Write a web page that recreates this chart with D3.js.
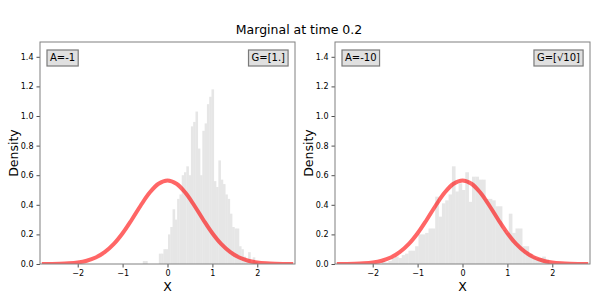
<!DOCTYPE html>
<html>
<head>
<meta charset="utf-8">
<style>
body { margin: 0; background: #fff; }
text { font-family: "DejaVu Sans", sans-serif; }
</style>
</head>
<body>
<svg width="598" height="299"></svg>
<script src="https://cdn.jsdelivr.net/npm/d3@7"></script>
<script>

// histogram of the left panel (A=-1): first bin edge, bin width, densities
var leftStart = -0.55, leftWidth = 0.051;
var leftDensity = [0.02, 0.02, 0, 0, 0, 0, 0, 0.07, 0.07, 0.1,
                   0.1, 0.2, 0.25, 0.37, 0.3, 0.44, 0.47, 0.6, 0.62, 0.66,
                   0.6, 0.93, 0.96, 1.03, 0.78, 0.6, 0.9, 0.95, 1.08, 1.13,
                   1.18, 0.56, 0.52, 0.7, 0.57, 0.54, 0.47, 0.44, 0.34, 0.25,
                   0.24, 0.24, 0.12, 0.1, 0.05, 0.03, 0.08, 0.01, 0.045, 0.015];

// histogram of the right panel (A=-10)
var rightStart = -1.8, rightWidth = 0.0745;
var rightDensity = [0.02, 0.01, 0.02, 0.04, 0.05, 0.04, 0.06, 0.07, 0.09, 0.09,
                    0.12, 0.2, 0.2, 0.21, 0.24, 0.24, 0.455, 0.32, 0.41, 0.43,
                    0.47, 0.66, 0.49, 0.545, 0.5, 0.62, 0.42, 0.59, 0.59, 0.57,
                    0.57, 0.44, 0.44, 0.43, 0.39, 0.39, 0.23, 0.21, 0.34, 0.21,
                    0.24, 0.24, 0.12, 0.12, 0.07, 0.05, 0.04, 0.04, 0.05, 0.03];

// target density curve (same in both panels)
var curveX = [-2.8, -2.6, -2.4, -2.2, -2.0, -1.8, -1.6, -1.4, -1.2, -1.0, -0.8, -0.6, -0.4, -0.2,
              0, 0.2, 0.4, 0.6, 0.8, 1.0, 1.2, 1.4, 1.6, 1.8, 2.0, 2.2, 2.4, 2.6, 2.8];
var curveY = [0.0002, 0.0007, 0.0018, 0.0045, 0.0103, 0.0221, 0.0436, 0.0795, 0.1337, 0.2076, 0.2975, 0.3936, 0.4808, 0.5421,
              0.5642, 0.5421, 0.4808, 0.3936, 0.2975, 0.2076, 0.1337, 0.0795, 0.0436, 0.0221, 0.0103, 0.0045, 0.0018, 0.0007, 0.0002];

var xTicks = [-2, -1, 0, 1, 2];
var yTicks = [0.0, 0.2, 0.4, 0.6, 0.8, 1.0, 1.2, 1.4];

var panels = [
  {left: 40, start: leftStart, width: leftWidth, density: leftDensity, tagA: "A=-1", tagG: "G=[1.]"},
  {left: 335, start: rightStart, width: rightWidth, density: rightDensity, tagA: "A=-10", tagG: "G=[\u221A10]"}
];

var svg = d3.select("svg"),
    marginTop = 42, w = 255, h = 222;

svg.append("text")
    .attr("x", 299)
    .attr("y", 34)
    .attr("text-anchor", "middle")
    .style("font-size", "12.5px")
    .text("Marginal at time 0.2");

var fmt = function(d) { return d3.format(".1f")(d); };
var fmtX = function(d) { return d < 0 ? "\u2212" + Math.abs(d) : "" + d; };

panels.forEach(function(p) {
  var x = d3.scaleLinear().domain([-2.84, 2.84]).range([0, w]);
  var y = d3.scaleLinear().domain([0, 1.5]).range([h, 0]);

  var g = svg.append("g")
      .attr("transform", "translate(" + p.left + "," + marginTop + ")");

  var clipId = "clip" + p.left;
  g.append("clipPath").attr("id", clipId)
    .append("rect").attr("width", w).attr("height", h);

  var bins = p.density.map(function(v, i) {
    return {x0: p.start + i * p.width, x1: p.start + (i + 1) * p.width, v: v};
  });

  g.append("g")
      .attr("clip-path", "url(#" + clipId + ")")
    .selectAll("rect")
    .data(bins)
    .enter().append("rect")
      .attr("x", function(d) { return x(d.x0); })
      .attr("width", function(d) { return x(d.x1) - x(d.x0) + 0.3; })
      .attr("y", function(d) { return y(d.v); })
      .attr("height", function(d) { return h - y(d.v); })
      .attr("fill", "#e6e6e6");

  var line = d3.line()
      .x(function(d, i) { return x(curveX[i]); })
      .y(function(d) { return y(d); })
      .curve(d3.curveCatmullRom);

  g.append("path")
      .datum(curveY)
      .attr("clip-path", "url(#" + clipId + ")")
      .attr("fill", "none")
      .attr("stroke", "red")
      .attr("stroke-opacity", 0.6)
      .attr("stroke-width", 4)
      .attr("d", line);

  var xAxis = g.append("g")
      .attr("transform", "translate(0," + h + ")")
      .call(d3.axisBottom(x).tickValues(xTicks).tickFormat(fmtX).tickSize(3.5).tickPadding(3));
  var yAxis = g.append("g")
      .call(d3.axisLeft(y).tickValues(yTicks).tickFormat(fmt).tickSize(3.5).tickPadding(3));
  [xAxis, yAxis].forEach(function(a) {
    a.select(".domain").remove();
    a.selectAll("text").style("font-size", "8px").style("font-family", "DejaVu Sans").attr("fill", "#000");
    a.selectAll("line").attr("stroke", "#222").attr("stroke-width", 0.8);
  });

  g.append("rect")
      .attr("width", w)
      .attr("height", h)
      .attr("fill", "none")
      .attr("stroke", "#808080")
      .attr("stroke-width", 1);

  g.append("text")
      .attr("transform", "translate(" + (-22) + "," + (h / 2) + ") rotate(-90)")
      .attr("text-anchor", "middle")
      .style("font-size", "12.5px")
      .text("Density");

  g.append("text")
      .attr("x", w / 2)
      .attr("y", h + 27)
      .attr("text-anchor", "middle")
      .style("font-size", "12.5px")
      .text("X");

  // labels in boxes
  [[p.tagA, "start", 7], [p.tagG, "end", w - 7]].forEach(function(t) {
    var lab = g.append("text")
        .attr("x", t[1] === "start" ? t[2] + 3 : t[2] - 3)
        .attr("y", 19)
        .attr("text-anchor", t[1])
        .style("font-size", "10px")
        .text(t[0]);
    var bb = lab.node().getBBox();
    g.insert("rect", function() { return lab.node(); })
        .attr("x", bb.x - 3)
        .attr("y", 8)
        .attr("width", bb.width + 6)
        .attr("height", 16)
        .attr("fill", "#e0e0e0")
        .attr("stroke", "#7a7a7a")
        .attr("stroke-width", 1.2);
  });
});

</script>
</body>
</html>
